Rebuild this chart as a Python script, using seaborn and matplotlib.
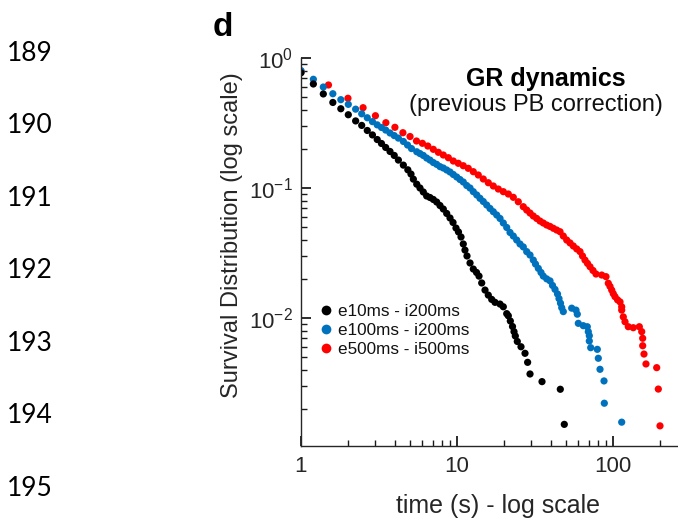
import numpy as np
import pandas as pd
import matplotlib
matplotlib.use("Agg")
import matplotlib.pyplot as plt
import seaborn as sns

# ---------------- data ----------------
series_labels = ["e10ms - i200ms", "e100ms - i200ms", "e500ms - i500ms"]
series_colors = ["#000000", "#0072BD", "#FF0000"]

black_t = [1.0, 1.2, 1.39, 1.6, 1.8, 2.01, 2.24, 2.45, 2.66, 2.87, 3.08, 3.28, 3.49, 3.72,
           3.96, 4.21, 4.53, 4.84, 5.07, 5.25, 5.52, 5.79, 6.08, 6.39, 6.71, 7.05, 7.41, 7.78,
           8.17, 8.59, 9.02, 9.43, 9.85, 10.22, 10.61, 10.97, 11.25, 11.59, 12.12, 12.72,
           13.34, 13.84, 14.40, 15.12, 15.87, 16.69, 17.52, 18.87, 19.81, 20.83, 21.33, 21.97,
           22.69, 23.20, 23.65, 24.35, 25.72, 27.29, 28.36, 29.38, 35.07, 45.94, 48.73]
black_s = [0.77, 0.631, 0.529, 0.455, 0.407, 0.366, 0.328, 0.303, 0.277, 0.256, 0.236, 0.220,
           0.205, 0.191, 0.178, 0.164, 0.150, 0.138, 0.128, 0.117, 0.107, 0.100, 0.0932, 0.0868,
           0.0845, 0.0816, 0.0780, 0.0733, 0.0689, 0.0637, 0.0588, 0.0543, 0.0492, 0.0459,
           0.0420, 0.0371, 0.0333, 0.0300, 0.0265, 0.0238, 0.0224, 0.0210, 0.0186, 0.0164,
           0.0150, 0.0139, 0.0132, 0.0128, 0.0122, 0.0108, 0.0104, 0.00948, 0.00860, 0.00785,
           0.00727, 0.00660, 0.00601, 0.00535, 0.00456, 0.00371, 0.00324, 0.00283, 0.00152]

blue_t = [1.0, 1.2, 1.39, 1.6, 1.8, 2.01, 2.24, 2.45, 2.66, 2.87, 3.08, 3.28, 3.49, 3.72, 3.96,
          4.21, 4.53, 4.82, 5.11, 5.52, 5.79, 6.08, 6.39, 6.71, 7.05, 7.41, 7.78, 8.17, 8.59,
          9.02, 9.47, 9.96, 10.45, 10.97, 11.54, 12.12, 12.72, 13.38, 14.04, 14.74, 15.50,
          16.28, 17.09, 17.97, 18.87, 19.81, 20.83, 21.87, 22.96, 24.14, 25.34, 26.61, 27.98,
          29.38, 30.84, 31.86, 33.20, 34.55, 35.74, 37.58, 39.47, 40.95, 42.49, 44.09, 45.07,
          46.08, 46.91, 48.02, 54.36, 57.91, 59.04, 59.92, 64.49, 68.43, 69.45, 70.49, 70.49,
          71.96, 79.33, 80.51, 82.55, 87.58, 87.97, 113.7]
blue_s = [0.80, 0.686, 0.598, 0.531, 0.478, 0.440, 0.404, 0.372, 0.347, 0.324, 0.306, 0.292,
          0.279, 0.265, 0.253, 0.242, 0.228, 0.214, 0.201, 0.190, 0.184, 0.178, 0.170, 0.164,
          0.157, 0.152, 0.146, 0.1425, 0.1376, 0.1328, 0.127, 0.1215, 0.1162, 0.1112, 0.1045,
          0.100, 0.0937, 0.0884, 0.0833, 0.0787, 0.0740, 0.0696, 0.0657, 0.0620, 0.0583,
          0.0538, 0.0497, 0.0455, 0.0427, 0.0398, 0.0371, 0.0352, 0.0324, 0.0305, 0.0279,
          0.0260, 0.0241, 0.0224, 0.0210, 0.0200, 0.0193, 0.0178, 0.0166, 0.0153, 0.0141,
          0.0130, 0.0120, 0.0112, 0.0119, 0.0115, 0.0107, 0.00910, 0.00873, 0.00857, 0.00785,
          0.00731, 0.00665, 0.00591, 0.00574, 0.00490, 0.00403, 0.00328, 0.00221, 0.00158]

red_t = [1.0, 1.5, 2.0, 2.5, 3.0, 3.5, 4.0, 4.5, 5.0, 5.5, 6.0, 6.5, 7.05, 7.59, 8.17, 8.80,
         9.47, 10.19, 10.97, 11.81, 12.72, 13.69, 14.74, 15.87, 17.09, 18.40, 19.81, 21.33,
         22.96, 24.71, 26.61, 27.98, 29.38, 30.84, 32.43, 34.04, 35.74, 37.58, 39.47, 41.44,
         43.57, 45.75, 48.02, 50.49, 53.02, 55.67, 58.53, 61.45, 63.75, 66.14, 68.62, 71.22,
         74.44, 77.80, 84.66, 90.19, 93.30, 95.68, 98.11, 100.4, 103.0, 106.9, 110.9, 113.7,
         113.7, 116.4, 119.4, 125.3, 134.9, 147.5, 152.8, 155.0, 155.0, 158.0, 162.7, 190.6,
         195.2, 200.1]
red_s = [0.785, 0.620, 0.490, 0.4147, 0.3598, 0.3179, 0.2930, 0.2663, 0.2489, 0.2299, 0.2207,
         0.2103, 0.1984, 0.1882, 0.1794, 0.1710, 0.1613, 0.1549, 0.1484, 0.1417, 0.1335,
         0.1259, 0.1173, 0.1098, 0.1036, 0.0982, 0.0937, 0.0899, 0.0848, 0.0784, 0.0718,
         0.0677, 0.0642, 0.0609, 0.0583, 0.0557, 0.0538, 0.0519, 0.0506, 0.0490, 0.0475,
         0.0461, 0.0427, 0.0398, 0.0378, 0.0358, 0.0340, 0.0324, 0.0300, 0.0279, 0.0263,
         0.0248, 0.0232, 0.0218, 0.0214, 0.0208, 0.0185, 0.0175, 0.0164, 0.0154, 0.0146,
         0.0138, 0.0133, 0.0122, 0.0115, 0.0102, 0.00936, 0.00857, 0.00842, 0.00857, 0.00785,
         0.00698, 0.00612, 0.00528, 0.00443, 0.00415, 0.00284, 0.00148]

x_ticks = [1, 10, 100]
x_tick_labels = ["1", "10", "100"]
y_ticks = [1, 0.1, 0.01]
y_tick_labels = [r"$\mathdefault{10^{0}}$", r"$\mathdefault{10^{-1}}$", r"$\mathdefault{10^{-2}}$"]
line_numbers = ["189", "190", "191", "192", "193", "194", "195"]

title_main = "GR dynamics"
title_sub = "(previous PB correction)"
panel_letter = "d"
x_label = "time (s) - log scale"
y_label = "Survival Distribution (log scale)"

# ---------------- figure ----------------
sns.set_theme(style="ticks")
plt.rcParams["font.family"] = ["Liberation Sans", "DejaVu Sans"]
plt.rcParams["mathtext.fontset"] = "custom"
plt.rcParams["mathtext.rm"] = "Liberation Sans"

W, H = 678, 518
fig = plt.figure(figsize=(W / 100, H / 100), dpi=100)
fig.patch.set_facecolor("white")

ax_l, ax_r, ax_t, ax_b = 301, 678, 58, 446
ax = fig.add_axes([ax_l / W, 1 - ax_b / H, (ax_r - ax_l) / W, (ax_b - ax_t) / H])

# draw order: red, blue, black (black on top); legend order black, blue, red
df = pd.concat([
    pd.DataFrame({"t": red_t, "S": red_s, "series": series_labels[2]}),
    pd.DataFrame({"t": blue_t, "S": blue_s, "series": series_labels[1]}),
    pd.DataFrame({"t": black_t, "S": black_s, "series": series_labels[0]}),
], ignore_index=True)

palette = dict(zip(series_labels, series_colors))
sns.scatterplot(data=df, x="t", y="S", hue="series", hue_order=series_labels,
                palette=palette, s=27, linewidth=0, edgecolor="none", ax=ax, legend=True)

ax.set_xscale("log")
ax.set_yscale("log")
ax.set_xlim(1, 10 ** ((ax_r - ax_l) / 156))
ax.set_ylim(10 ** (-(ax_b - ax_t) / 130), 1)

ax.set_xticks(x_ticks)
ax.set_xticklabels(x_tick_labels)
ax.set_yticks(y_ticks)
ax.set_yticklabels(y_tick_labels)
ax.xaxis.set_minor_locator(matplotlib.ticker.LogLocator(base=10, subs=np.arange(2, 10), numticks=50))
ax.yaxis.set_minor_locator(matplotlib.ticker.LogLocator(base=10, subs=np.arange(2, 10), numticks=50))
ax.yaxis.set_minor_formatter(matplotlib.ticker.NullFormatter())
ax.xaxis.set_minor_formatter(matplotlib.ticker.NullFormatter())

axis_col = "#262626"
for side in ["top", "right"]:
    ax.spines[side].set_visible(False)
for side in ["left", "bottom"]:
    ax.spines[side].set_color(axis_col)
    ax.spines[side].set_linewidth(1.0)

ax.tick_params(which="major", direction="in", length=7, width=1.3, color="#1a1a1a",
               labelcolor=axis_col, labelsize=16)
ax.tick_params(which="minor", direction="in", length=4, width=1.0, color="#1a1a1a")
ax.tick_params(axis="x", which="major", pad=7)
ax.tick_params(axis="y", which="major", pad=6)

ax.set_xlabel(x_label, fontsize=18, color=axis_col, va="center")
ax.set_ylabel(y_label, fontsize=17, color=axis_col, va="center")
ax.xaxis.set_label_coords((498 - ax_l) / (ax_r - ax_l), (ax_b - 506) / (ax_b - ax_t))
ax.yaxis.set_label_coords((232 - ax_l) / (ax_r - ax_l), (ax_b - 235) / (ax_b - ax_t))

handles, labels = ax.get_legend_handles_labels()
ax.legend(handles, labels, loc="upper left", bbox_to_anchor=(320 / W, 1 - 304 / H),
          bbox_transform=fig.transFigure, frameon=False, borderpad=0, borderaxespad=0,
          handlelength=0.7, handletextpad=0.35, labelspacing=0.22, fontsize=12.3,
          markerscale=1.35, labelcolor="#111111")

fig.text(545.5 / W, 1 - 79 / H, title_main, fontsize=18, fontweight="bold",
         ha="center", va="center", color="black")
fig.text(535.8 / W, 1 - 105 / H, title_sub, fontsize=17, ha="center", va="center",
         color="#111111")
fig.text(223 / W, 1 - 28 / H, panel_letter, fontsize=24, fontweight="bold",
         ha="center", va="center", color="black")

for i, num in enumerate(line_numbers):
    fig.text(7 / W, 1 - (53.3 + i * 72.5) / H, num, fontsize=19, ha="left", va="center",
             color="black", family=["Lato", "DejaVu Sans"])

fig.savefig("out.png", dpi=100, facecolor="white")
